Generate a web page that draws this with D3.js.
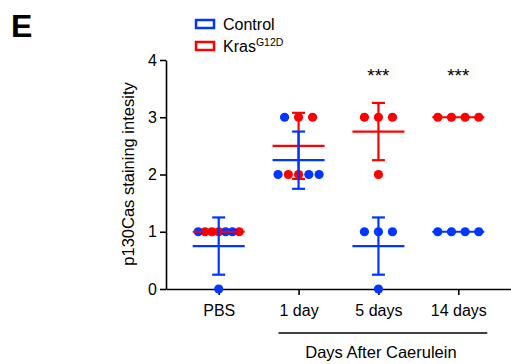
<!DOCTYPE html>
<html>
<head>
<meta charset="utf-8">
<script src="https://cdn.jsdelivr.net/npm/d3@7/dist/d3.min.js"></script>
<style>
  html, body { margin: 0; padding: 0; background: #fff; }
  svg { display: block; font-family: Arial, "Liberation Sans", sans-serif; }
</style>
</head>
<body>
<script>
// ---- data ----
const categories = ["PBS", "1 day", "5 days", "14 days"];
const seriesNames = ["Control", "Kras"];
const controlValues = [[1, 1, 1, 0], [3, 2, 2, 2], [1, 1, 1, 0], [1, 1, 1, 1]];
const krasValues    = [[1, 1, 1, 1], [3, 3, 2, 2], [3, 3, 3, 2], [3, 3, 3, 3]];
const significance  = ["", "", "***", "***"];
const yTicks = [0, 1, 2, 3, 4];
// order of dots (C = Control, K = Kras) within each category at each value level
const swarmOrder = [
  {1: "CKKKCCK", 0: "C"},
  {3: "CKK", 2: "CKKCC"},
  {3: "KKK", 2: "K", 1: "CCC", 0: "C"},
  {3: "KKKK", 1: "CCCC"}
];
const colors = {Control: "#0036ff", Kras: "#ff0000"};

// ---- layout ----
const W = 511, H = 364;
const svg = d3.select("body").append("svg").attr("width", W).attr("height", H);

const x = d3.scalePoint().domain(categories).range([166, 511]).padding(0.66);
const y = d3.scaleLinear().domain([0, 4]).range([289, 60]);

// Panel letter
svg.append("text").attr("x", 11).attr("y", 37)
  .attr("font-size", 32).attr("font-weight", "bold").text("E");

// Legend
const legend = [
  {name: "Control", color: colors.Control, y: 20},
  {name: "Kras", color: colors.Kras, y: 42}
];
legend.forEach(l => {
  svg.append("rect").attr("x", 196).attr("y", l.y).attr("width", 18).attr("height", 8)
    .attr("fill", "none").attr("stroke", l.color).attr("stroke-width", 2.5);
});
svg.append("text").attr("x", 223).attr("y", 29.5).attr("font-size", 16).text("Control");
const kt = svg.append("text").attr("x", 223).attr("y", 51.5).attr("font-size", 16);
kt.append("tspan").text("Kras");
kt.append("tspan").attr("font-size", 10.5).attr("dy", -6).text("G12D");

// Axes
const yAxis = svg.append("g").attr("transform", "translate(166,0)")
  .call(d3.axisLeft(y).tickValues(yTicks).tickFormat(d3.format("d")).tickSize(6).tickSizeOuter(0).tickPadding(3));
const xAxis = svg.append("g").attr("transform", "translate(0,289)")
  .call(d3.axisBottom(x).tickSize(6).tickSizeOuter(0).tickPadding(6));
[yAxis, xAxis].forEach(a => {
  a.selectAll("path, line").attr("stroke", "#000").attr("stroke-width", 1.6);
  a.selectAll("text").attr("font-size", 16).attr("fill", "#000")
    .attr("font-family", "Arial, 'Liberation Sans', sans-serif");
});
xAxis.selectAll("text").attr("dy", "0.95em");

// Y label
svg.append("text")
  .attr("transform", "translate(128,174) rotate(-90)")
  .attr("text-anchor", "middle").attr("dy", "0.35em")
  .attr("font-size", 16.5).text("p130Cas staining intesity");

// Group bracket
const b0 = x("1 day") - 20, b1 = x("14 days") + 29;
svg.append("line").attr("x1", b0).attr("x2", b1).attr("y1", 333).attr("y2", 333)
  .attr("stroke", "#000").attr("stroke-width", 1.5);
svg.append("text").attr("x", (b0 + b1) / 2 - 2).attr("y", 358)
  .attr("text-anchor", "middle").attr("font-size", 16.5).text("Days After Caerulein");

// Build dots
const dots = [];
categories.forEach((cat, ci) => {
  const cx = x(cat);
  const levels = Array.from(new Set([...controlValues[ci], ...krasValues[ci]]));
  levels.forEach(v => {
    const nC = controlValues[ci].filter(d => d === v).length;
    const nK = krasValues[ci].filter(d => d === v).length;
    let order = (swarmOrder[ci] && swarmOrder[ci][v]) || ("C".repeat(nC) + "K".repeat(nK));
    const n = order.length;
    const sp = n > 1 ? Math.min(14, 41 / (n - 1)) : 0;
    order.split("").forEach((s, i) => {
      dots.push({series: s === "C" ? "Control" : "Kras", cat, value: v,
                 px: cx + (i - (n - 1) / 2) * sp});
    });
  });
});

const drawOrder = ["Kras", "Control"];
drawOrder.forEach(s => {
  svg.append("g").selectAll("circle").data(dots.filter(d => d.series === s)).join("circle")
    .attr("cx", d => d.px).attr("cy", d => y(d.value)).attr("r", 4.6)
    .attr("fill", colors[s]);
});

// Mean ± SD
drawOrder.forEach(s => {
  const vals = s === "Control" ? controlValues : krasValues;
  const g = svg.append("g").attr("stroke", colors[s]).attr("stroke-width", 2.2).attr("fill", "none");
  categories.forEach((cat, ci) => {
    const cx = x(cat);
    const m = d3.mean(vals[ci]);
    const sd = d3.deviation(vals[ci]) || 0;
    g.append("line").attr("x1", cx - 26).attr("x2", cx + 26).attr("y1", y(m)).attr("y2", y(m));
    if (sd > 0) {
      g.append("line").attr("x1", cx).attr("x2", cx).attr("y1", y(m - sd)).attr("y2", y(m + sd));
      [m - sd, m + sd].forEach(e => {
        g.append("line").attr("x1", cx - 6.5).attr("x2", cx + 6.5).attr("y1", y(e)).attr("y2", y(e));
      });
    }
  });
});

// Significance stars
svg.append("g").selectAll("text").data(categories.filter((c, i) => significance[i]))
  .join("text")
  .attr("x", d => x(d)).attr("y", 82).attr("text-anchor", "middle")
  .attr("font-size", 19).text(d => significance[categories.indexOf(d)]);
</script>
</body>
</html>
